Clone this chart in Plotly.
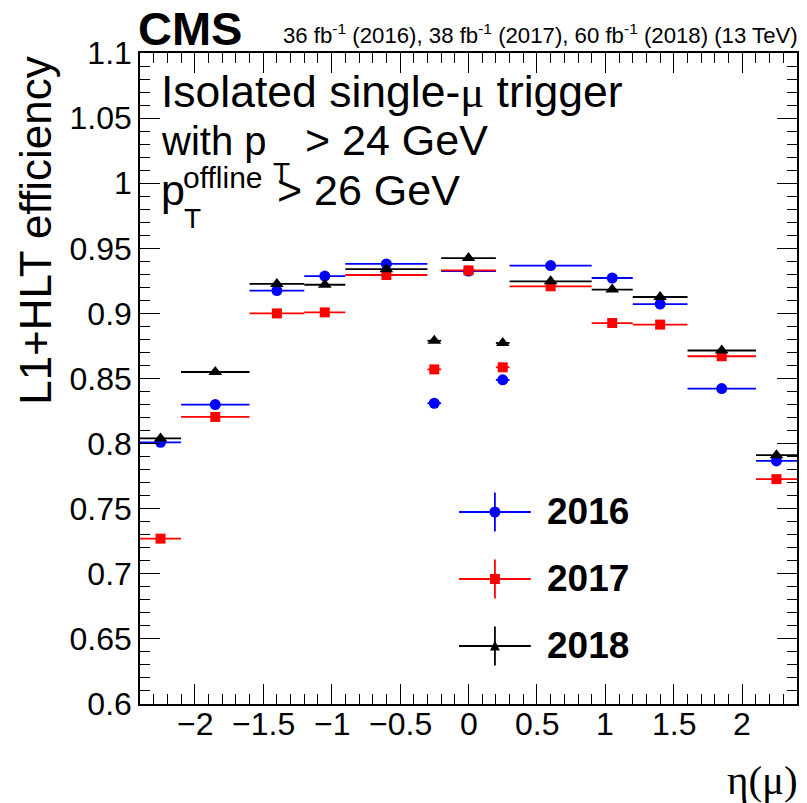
import plotly.graph_objects as go

# ---------------- data ----------------
eta_edges = [-2.4, -2.1, -1.6, -1.2, -0.9, -0.3, -0.2, 0.2, 0.3, 0.9, 1.2, 1.6, 2.1, 2.4]
eff_2016 = [0.801, 0.830, 0.9175, 0.9287, 0.938, 0.831, 0.9325, 0.849, 0.9367, 0.9272, 0.9072, 0.8423, 0.7867]
eff_2017 = [0.727, 0.8205, 0.900, 0.9008, 0.9295, 0.857, 0.933, 0.8586, 0.9208, 0.8926, 0.8914, 0.8671, 0.7727]
eff_2018 = [0.804, 0.855, 0.9226, 0.922, 0.934, 0.879, 0.9425, 0.8773, 0.9246, 0.9183, 0.9126, 0.8715, 0.7911]
years = ["2016", "2017", "2018"]
colors = ["#0000ff", "#ff0000", "#000000"]
symbols = ["circle", "square", "triangle-up"]
x_ticks = [-2, -1.5, -1, -0.5, 0, 0.5, 1, 1.5, 2]
x_ticklabels = ["\u22122", "\u22121.5", "\u22121", "\u22120.5", "0", "0.5", "1", "1.5", "2"]
x_range = [-2.4, 2.4]
y_range = [0.6, 1.1]

centers = [(a + b) / 2 for a, b in zip(eta_edges[:-1], eta_edges[1:])]
halfw = [(b - a) / 2 for a, b in zip(eta_edges[:-1], eta_edges[1:])]

SANS = "Liberation Sans, Arial, Helvetica, sans-serif"
SERIF = "Liberation Serif, Times New Roman, serif"

W, H = 807, 803
L, R, T, B = 140, 8, 53, 99
PW, PH = W - L - R, H - T - B


def xp(px):
    return (px - L) / PW


def yp(py):
    return (H - B - py) / PH


fig = go.Figure()
sizes = [11, 10, 12]
for yr, vals, col, sym, sz in zip(years, [eff_2016, eff_2017, eff_2018], colors, symbols, sizes):
    fig.add_trace(go.Scatter(
        x=centers, y=vals, mode="markers", name=yr,
        marker=dict(symbol=sym, size=sz, color=col, line=dict(width=0)),
        error_x=dict(type="data", array=halfw, visible=True, color=col, thickness=1.8, width=0),
        showlegend=False,
    ))

# invisible trace to activate mirror axes
fig.add_trace(go.Scatter(x=centers, y=eff_2016, xaxis="x2", yaxis="y2", mode="markers",
                         marker=dict(opacity=0), hoverinfo="skip", showlegend=False))

tickfont = dict(family=SANS, size=32, color="black")
common = dict(ticks="inside", ticklen=20, tickwidth=1.3, tickcolor="black",
              showgrid=False, zeroline=False, showline=True, linecolor="black", linewidth=1.5)

fig.update_layout(
    width=W, height=H, autosize=False,
    margin=dict(l=L, r=R, t=T, b=B, pad=0),
    paper_bgcolor="white", plot_bgcolor="white",
    xaxis=dict(range=x_range, tickmode="array", tickvals=x_ticks, showticklabels=False, mirror=True,
               minor=dict(dtick=0.1, tick0=0, ticks="inside", ticklen=10, tickwidth=1.1, tickcolor="black", showgrid=False),
               **common),
    yaxis=dict(range=y_range, tick0=0, dtick=0.05, tickfont=tickfont, mirror=True,
               minor=dict(dtick=0.01, ticks="inside", ticklen=10, tickwidth=1.1, tickcolor="black", showgrid=False),
               **common),
    xaxis2=dict(range=x_range, overlaying="x", side="top", anchor="y", tickmode="array", tickvals=x_ticks,
                showticklabels=False,
                minor=dict(dtick=0.1, tick0=0, ticks="inside", ticklen=10, tickwidth=1.1, tickcolor="black", showgrid=False),
                **common),
    yaxis2=dict(range=y_range, overlaying="y", side="right", anchor="x", tick0=0, dtick=0.05, showticklabels=False,
                minor=dict(dtick=0.01, ticks="inside", ticklen=10, tickwidth=1.1, tickcolor="black", showgrid=False),
                **common),
    showlegend=False,
)

anns = []

# x tick labels placed on the x axis scale
for v, lab in zip(x_ticks, x_ticklabels):
    anns.append(dict(text=lab, x=v, xref="x", y=yp(724), yref="paper", xanchor="center", yanchor="middle",
                     showarrow=False, borderpad=0, font=tickfont))


def text_at(text, left, baseline, size, bold=False, family=SANS, anchor="left"):
    yc = baseline - 0.3465 * size
    t = f"<b>{text}</b>" if bold else text
    anns.append(dict(text=t, x=xp(left), y=yp(yc), xref="paper", yref="paper",
                     xanchor=anchor, yanchor="middle", showarrow=False, borderpad=0,
                     font=dict(family=family, size=size, color="black")))


# header
text_at("CMS", 137, 45, 47, bold=True)
anns.append(dict(text="36 fb<sup>-1</sup> (2016), 38 fb<sup>-1</sup> (2017), 60 fb<sup>-1</sup> (2018) (13 TeV)",
                 x=xp(801), y=yp(44 + 0.212 * 22.2), xref="paper", yref="paper", xanchor="right",
                 yanchor="bottom", showarrow=False, borderpad=0, font=dict(family=SANS, size=22.2, color="black")))

# description
text_at("Isolated single-<span style='font-family:Liberation Serif'>μ</span> trigger", 160, 107, 44.5)
text_at("with p", 160, 155, 40)
text_at("T", 272, 182, 28)
text_at("&gt; 24 GeV", 305, 155, 43)
text_at("p", 160, 205, 43)
text_at("offline", 182, 188, 30)
text_at("T", 183, 228, 28)
text_at("&gt; 26 GeV", 276, 205, 43)

# axis titles
anns.append(dict(text="L1+HLT efficiency", textangle=-90, x=xp(35), y=yp(230.5), xref="paper", yref="paper",
                 xanchor="center", yanchor="middle", showarrow=False, borderpad=0,
                 font=dict(family=SANS, size=44, color="black")))
anns.append(dict(text="η(μ)", x=xp(801), y=yp(795 + 0.212 * 41), xref="paper", yref="paper",
                 xanchor="right", yanchor="bottom", showarrow=False, borderpad=0,
                 font=dict(family=SERIF, size=41, color="black")))

# legend (manual, ROOT style)
shapes = []
leg_y = [512, 579, 646]
cx = 496
for yr, col, sym, ly in zip(years, colors, symbols, leg_y):
    shapes.append(dict(type="line", xref="paper", yref="paper", x0=xp(460), x1=xp(532), y0=yp(ly), y1=yp(ly),
                       line=dict(color=col, width=1.8)))
    shapes.append(dict(type="line", xref="paper", yref="paper", x0=xp(cx), x1=xp(cx), y0=yp(ly - 19.5), y1=yp(ly + 19.5),
                       line=dict(color=col, width=1.8)))
    if sym == "circle":
        shapes.append(dict(type="circle", xref="paper", yref="paper", x0=xp(cx - 5.5), x1=xp(cx + 5.5),
                           y0=yp(ly - 5.5), y1=yp(ly + 5.5), fillcolor=col, line=dict(width=0)))
    elif sym == "square":
        shapes.append(dict(type="rect", xref="paper", yref="paper", x0=xp(cx - 5), x1=xp(cx + 5),
                           y0=yp(ly - 5), y1=yp(ly + 5), fillcolor=col, line=dict(width=0)))
    else:
        path = f"M {xp(cx - 5)} {yp(ly + 4.5)} L {xp(cx + 5)} {yp(ly + 4.5)} L {xp(cx)} {yp(ly - 5.5)} Z"
        shapes.append(dict(type="path", xref="paper", yref="paper", path=path, fillcolor=col, line=dict(width=0)))
    text_at(yr, 547, ly + 12.5, 37, bold=True)

fig.update_layout(annotations=anns, shapes=shapes)

fig.write_html("out.html")
